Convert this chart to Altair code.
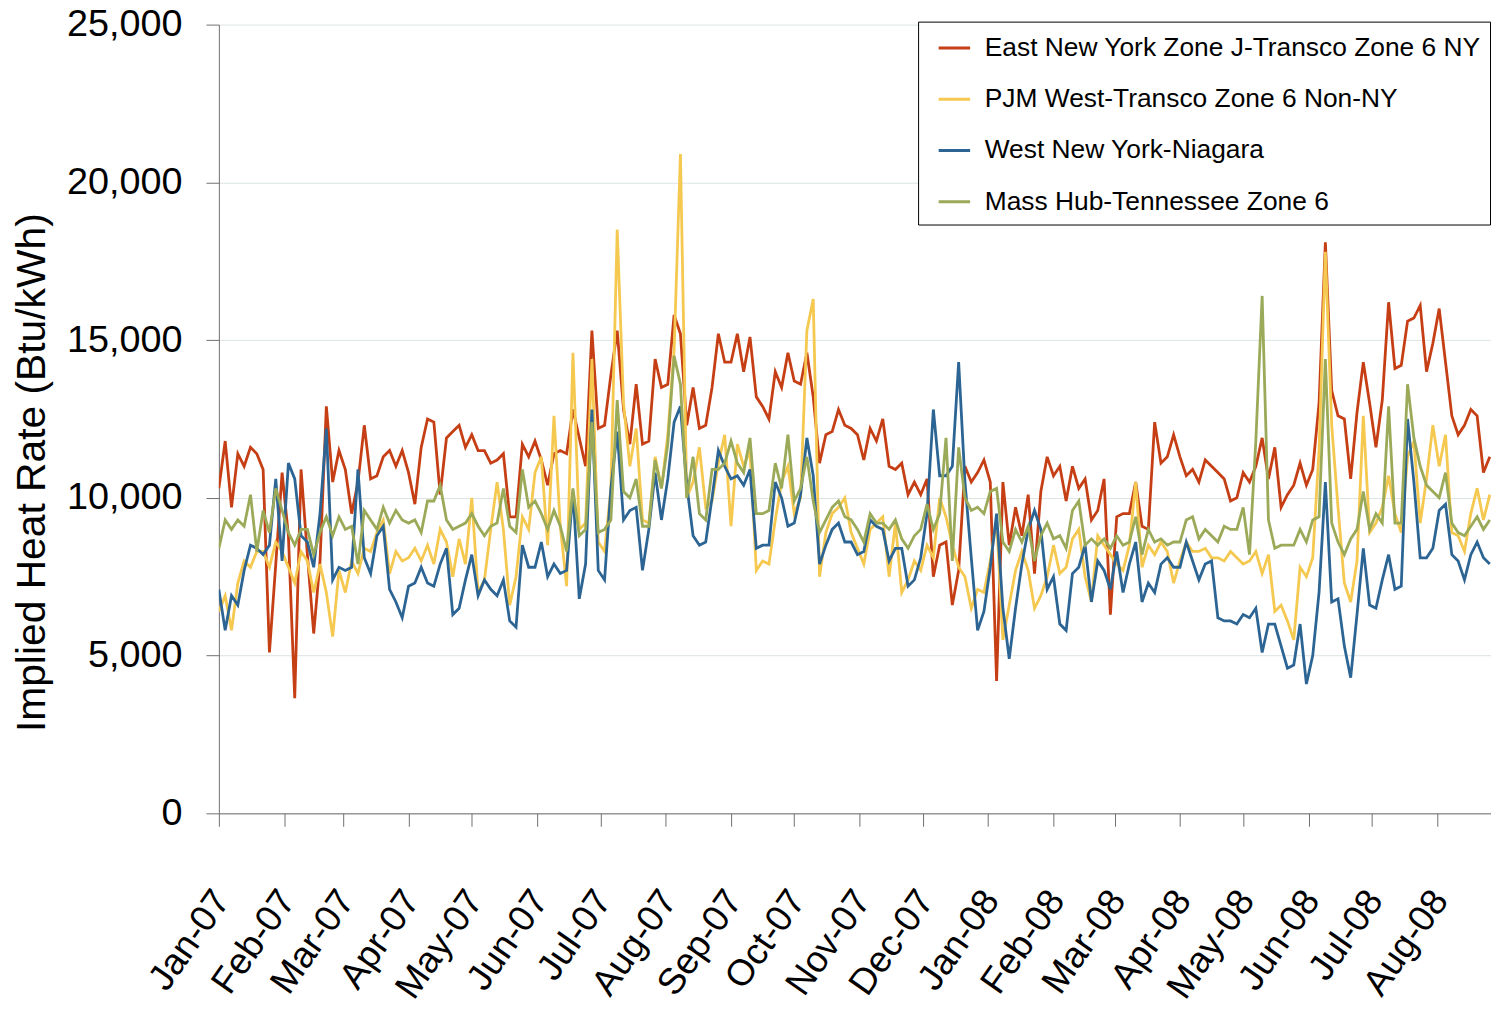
import altair as alt
import pandas as pd

FONT = "Liberation Sans"

SERIES = [
    "East New York Zone J-Transco Zone 6 NY",
    "PJM West-Transco Zone 6 Non-NY",
    "West New York-Niagara",
    "Mass Hub-Tennessee Zone 6",
]
COLORS = ["#C53E14", "#F5C850", "#2C6594", "#9AAA58"]

# sampling dates (every third day from 1 Jan 2007)
dates = pd.date_range("2007-01-01", periods=202, freq="3D")

east_ny = [
    10300, 11800, 9700, 11400, 11000, 11600, 11400, 10900, 5100, 7900, 10800, 8800, 3650, 10900, 8200, 5700, 8000,
    12900, 10500, 11500, 10900, 9500, 10500, 12300, 10600, 10700, 11300, 11500, 11000, 11500, 10800, 9800, 11600, 12500,
    12400, 10100, 11900, 12100, 12300, 11600, 12000, 11500, 11500, 11100, 11200, 11400, 9400, 9400, 11700, 11300, 11800,
    11200, 10400, 11400, 11500, 11400, 12800, 11900, 11000, 15300, 12200, 12300, 13900, 15300, 12800, 11700, 13600, 11700,
    11800, 14400, 13500, 13600, 15800, 15200, 12300, 13500, 12200, 12300, 13500, 15200, 14300, 14300, 15200, 14000, 15100,
    13200, 12900, 12500, 14000, 13500, 14600, 13700, 13600, 14600, 13200, 11100, 12000, 12100, 12800, 12300, 12200, 12000,
    11200, 12200, 11800, 12500, 11000, 10900, 11100, 10100, 10500, 10100, 10600, 7500, 8500, 8600, 6600, 7700, 11000,
    10500, 10800, 11200, 10500, 4200, 10500, 8500, 9700, 8800, 10100, 7600, 10200, 11300, 10700, 11000, 9900, 11000,
    10300, 10600, 9300, 9600, 10600, 6300, 9400, 9500, 9500, 10500, 9100, 9000, 12400, 11100, 11300, 12000, 11300,
    10700, 10900, 10500, 11200, 11000, 10800, 10600, 9900, 10000, 10800, 10500, 11000, 11900, 10600, 11600, 9700, 10100,
    10400, 11100, 10400, 10900, 13000, 18100, 13400, 12600, 12500, 10600, 12700, 14300, 13000, 11600, 13100, 16200,
    14100, 14200, 15600, 15700, 16100, 14000, 14900, 16000, 14300, 12600, 12000, 12300, 12800, 12600, 10800, 11300,
]

pjm_west = [
    6400, 6900, 5800, 7300, 8000, 7800, 8300, 8300, 7800, 8600, 8300, 7800, 7300, 8300, 8000, 7000, 7900,
    7000, 5600, 7700, 7000, 8000, 7600, 8400, 8300, 8900, 9300, 7600, 8300, 8000, 8100, 8400, 8000, 8500,
    7900, 9000, 8600, 7500, 8700, 7900, 10000, 7000, 7400, 9000, 10500, 9000, 6600, 7500, 9400, 9000, 10800,
    11300, 8500, 12600, 9100, 7200, 14600, 9000, 9200, 14400, 8600, 8300, 10300, 18500, 13000, 11000, 12200, 9300,
    9200, 11300, 10300, 12000, 14700, 20900, 10000, 10500, 11600, 9700, 9900, 11100, 12000, 9100, 11700, 11000, 11500,
    7700, 8000, 7900, 9300, 10500, 11000, 9500, 10000, 15300, 16300, 7500, 8900, 9500, 9700, 10000, 8900, 8400,
    7900, 9000, 9200, 9400, 7500, 9200, 7000, 7400, 8000, 7700, 8500, 8100, 10000, 9400, 8500, 7800, 7500,
    6500, 7100, 7000, 8000, 9300, 5500, 6600, 7700, 8300, 7700, 6500, 6900, 7500, 8500, 7600, 7800, 8700,
    9000, 7500, 6700, 8800, 8500, 8200, 7900, 7700, 8500, 10500, 7800, 8500, 8200, 8600, 8300, 7300, 8000,
    8600, 8300, 8300, 8400, 8100, 8100, 8000, 8300, 8100, 7900, 8000, 8300, 7600, 8200, 6400, 6600, 6100,
    5500, 7800, 7500, 8100, 11500, 17800, 12300, 9700, 7300, 6700, 8000, 12600, 8900, 9200, 9700, 10700,
    9500, 8900, 11300, 11800, 9200, 10600, 12300, 11000, 12000, 8900, 8800, 8300, 9500, 10300, 9300, 10100,
]

west_ny = [
    7100, 5800, 6900, 6600, 7700, 8500, 8400, 8200, 8500, 10600, 8000, 11100, 10600, 8800, 8600, 7800, 9500,
    12200, 7400, 7800, 7700, 7800, 10900, 8100, 7600, 8800, 9100, 7100, 6700, 6200, 7200, 7300, 7800, 7300,
    7200, 7900, 8400, 6300, 6500, 7400, 8200, 6900, 7400, 7100, 6900, 7400, 6100, 5900, 8500, 7800, 7800,
    8600, 7500, 7900, 7600, 7700, 10200, 6800, 7900, 12800, 7700, 7400, 10300, 12100, 9300, 9600, 9700, 7700,
    9000, 10800, 9300, 10600, 12400, 12900, 10400, 8800, 8500, 8600, 10000, 11500, 11000, 10600, 10700, 10400, 10900,
    8400, 8500, 8500, 10500, 10000, 9100, 9200, 10100, 11900, 10700, 7900, 8500, 9000, 9200, 8600, 8600, 8200,
    8300, 9300, 9100, 9000, 8000, 8400, 8400, 7200, 7400, 8100, 9500, 12800, 10700, 10700, 11000, 14300, 10500,
    8100, 5800, 6400, 7800, 9500, 6500, 4900, 6500, 7900, 9000, 9600, 9000, 7100, 7500, 6000, 5800, 7600,
    7800, 8500, 6700, 8000, 7700, 7100, 8300, 7000, 7900, 8600, 6700, 7300, 7000, 7900, 8100, 7800, 7800,
    8600, 8000, 7400, 7900, 8000, 6200, 6100, 6100, 6000, 6300, 6200, 6500, 5100, 6000, 6000, 5300, 4600,
    4700, 6000, 4100, 5000, 7000, 10500, 6700, 6800, 5300, 4300, 6300, 8400, 6600, 6500, 7400, 8200,
    7100, 7200, 12500, 10500, 8100, 8100, 8400, 9600, 9800, 8200, 8000, 7400, 8200, 8600, 8100, 7900,
]

mass_hub = [
    8400, 9300, 9000, 9300, 9100, 10100, 8300, 9600, 8900, 10300, 9600, 8900, 8500, 9000, 9000, 8200, 8900,
    9400, 8800, 9400, 9000, 9100, 7900, 9600, 9300, 9000, 9700, 9200, 9600, 9300, 9200, 9300, 8900, 9900,
    9900, 10400, 9300, 9000, 9100, 9200, 9500, 9100, 8800, 9100, 9200, 10300, 9100, 8900, 10900, 9700, 9900,
    9500, 9000, 9600, 9100, 8300, 10300, 8800, 9000, 12400, 8900, 9000, 9300, 13100, 10200, 10000, 10600, 9100,
    9100, 11200, 10300, 11700, 14500, 13600, 10000, 11300, 9500, 9300, 10900, 10900, 11100, 11800, 11100, 10800, 11900,
    9500, 9500, 9600, 11100, 10300, 12000, 9900, 10300, 11300, 9900, 8900, 9300, 9700, 9900, 9400, 9300, 9000,
    8600, 9500, 9200, 9200, 9000, 9300, 8700, 8400, 8800, 9000, 9800, 9000, 9500, 11900, 8000, 11600, 10000,
    9600, 9700, 9500, 10200, 10300, 8600, 8300, 9000, 8600, 9100, 8000, 8800, 9200, 8700, 8800, 8400, 9600,
    9900, 8500, 8700, 8500, 8700, 8400, 8800, 8500, 8600, 9400, 8200, 9000, 8600, 8700, 8500, 8600, 8600,
    9300, 9400, 8700, 9000, 8800, 8600, 9100, 9000, 9000, 9700, 8200, 11800, 16400, 9300, 8400, 8500, 8500,
    8500, 9000, 8600, 9300, 9400, 14400, 9200, 8600, 8200, 8700, 9000, 10200, 9000, 9500, 9200, 12900,
    9200, 9200, 13600, 11900, 11000, 10400, 10200, 10000, 10800, 9200, 8900, 8800, 9100, 9400, 9000, 9300,
]

Y_TICKS = [0, 5000, 10000, 15000, 20000, 25000]


def ms(s):
    return int(pd.Timestamp(s, tz="UTC").value // 10**6)


month_ticks = [ms(f"{y}-{m:02d}-01") for y, m in
               [(2007, m) for m in range(1, 13)] + [(2008, m) for m in range(1, 9)]]
x_domain = [ms("2007-01-01"), ms("2008-08-26 14:00")]

rows = []
for name, vals in zip(SERIES, [east_ny, pjm_west, west_ny, mass_hub]):
    for d, v in zip(dates, vals):
        rows.append({"date": d.strftime("%Y-%m-%d"), "series": name, "value": v})
df = pd.DataFrame(rows)

AXIS_COL = "#707070"

chart = (
    alt.Chart(df)
    .mark_line(strokeWidth=2.8, clip=True)
    .encode(
        x=alt.X(
            "date:T",
            scale=alt.Scale(type="utc", domain=x_domain, nice=False),
            axis=alt.Axis(
                values=month_ticks,
                labelExpr="utcFormat(datum.value, '%b-%y')",
                labelAngle=305, labelAlign="right", labelBaseline="middle",
                labelFont=FONT, labelFontSize=37, labelColor="black", labelLimit=400,
                labelPadding=68, labelOffset=3, labelOverlap=False, labelFlush=False,
                tickSize=13, tickColor=AXIS_COL, domainColor=AXIS_COL,
                grid=False, title=None,
            ),
        ),
        y=alt.Y(
            "value:Q",
            scale=alt.Scale(domain=[0, 25000], nice=False),
            axis=alt.Axis(
                values=Y_TICKS,
                labelExpr="format(datum.value, ',.0f')",
                labelFont=FONT, labelFontSize=38, labelColor="black", labelPadding=24,
                tickSize=13, tickColor=AXIS_COL, domainColor=AXIS_COL,
                grid=True, gridColor="#dce4e4", gridWidth=1,
                title="Implied Heat Rate (Btu/kWh)", titleFont=FONT, titleFontSize=41,
                titleFontWeight="normal", titleColor="black",
                titleAngle=270, titleAlign="center", titleBaseline="bottom",
                titleX=-166, titleY=450,
            ),
        ),
        color=alt.Color(
            "series:N",
            scale=alt.Scale(domain=SERIES, range=COLORS),
            title=None,
            legend=alt.Legend(
                orient="none", legendX=703, legendY=-3,
                strokeColor="black", fillColor="white", padding=9,
                symbolType="stroke", symbolSize=1000, symbolStrokeWidth=3, symbolOffset=10,
                labelFont=FONT, labelFontSize=26.5, labelColor="black",
                labelLimit=800, labelOffset=13, rowPadding=20.5,
            ),
        ),
    )
    .properties(
        width=1279, height=793,
        autosize=alt.AutoSizeParams(type="none"),
        padding={"left": 212, "top": 14, "right": 0, "bottom": 190},
    )
    .configure_view(strokeWidth=0)
)

chart.save("out.html", embed_options={"renderer": "svg", "actions": False})
